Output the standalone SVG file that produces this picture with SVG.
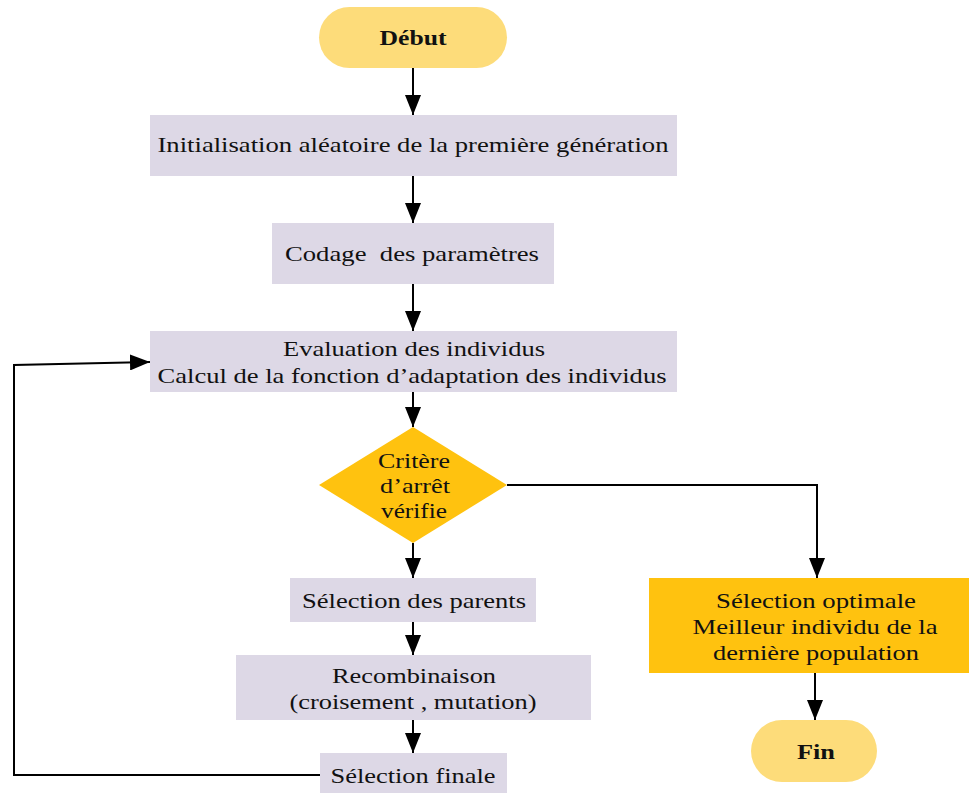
<svg xmlns="http://www.w3.org/2000/svg" width="969" height="793" viewBox="0 0 969 793">
<style>
.t{font-family:"Liberation Serif","Times New Roman",serif;font-size:21px;fill:#111;text-anchor:middle}
.b{font-weight:bold}
.box{fill:#DDD8E6}
.term{fill:#FDDC7A}
.dec{fill:#FFC20F}
.c{fill:none;stroke:#000;stroke-width:2}
</style>
<defs>
<marker id="ah" viewBox="0 0 20 16" refX="20" refY="8" markerWidth="20" markerHeight="16" markerUnits="userSpaceOnUse" orient="auto">
<path d="M0,0 L20,8 L0,16 z" fill="#000"/>
</marker>
</defs>
<rect width="969" height="793" fill="#fff"/>
<g id="connectors">
<line class="c" x1="413" y1="68" x2="413" y2="115" marker-end="url(#ah)"/>
<line class="c" x1="413" y1="176" x2="413" y2="223" marker-end="url(#ah)"/>
<line class="c" x1="413" y1="284" x2="413" y2="331" marker-end="url(#ah)"/>
<line class="c" x1="413" y1="392" x2="413" y2="427" marker-end="url(#ah)"/>
<line class="c" x1="413" y1="543" x2="413" y2="578" marker-end="url(#ah)"/>
<line class="c" x1="413" y1="622" x2="413" y2="655" marker-end="url(#ah)"/>
<line class="c" x1="413" y1="720" x2="413" y2="753" marker-end="url(#ah)"/>
<polyline class="c" points="507,485 817,485 817,578" marker-end="url(#ah)"/>
<line class="c" x1="815" y1="673" x2="815" y2="720" marker-end="url(#ah)"/>
<polyline class="c" points="320,775 14,775 14,365 150,362" marker-end="url(#ah)"/>
</g>
<g id="debut">
<rect class="term" x="319" y="7" width="188" height="61" rx="30.5"/>
<text class="t b" x="413" y="45" textLength="67" lengthAdjust="spacingAndGlyphs">Début</text>
</g>
<g id="init">
<rect class="box" x="150" y="115" width="527" height="61"/>
<text class="t" x="413" y="152" textLength="511" lengthAdjust="spacingAndGlyphs">Initialisation aléatoire de la première génération</text>
</g>
<g id="codage">
<rect class="box" x="272" y="223" width="282" height="61"/>
<text class="t" x="412" y="261" xml:space="preserve" textLength="254" lengthAdjust="spacingAndGlyphs">Codage  des paramètres</text>
</g>
<g id="evaluation">
<rect class="box" x="150" y="331" width="527" height="61"/>
<text class="t" x="414" y="356" textLength="262" lengthAdjust="spacingAndGlyphs">Evaluation des individus</text>
<text class="t" x="412" y="383" textLength="509" lengthAdjust="spacingAndGlyphs">Calcul de la fonction d’adaptation des individus</text>
</g>
<g id="critere">
<polygon class="dec" points="413,427 507,485 413,543 319,485"/>
<text class="t" x="414" y="468" textLength="72" lengthAdjust="spacingAndGlyphs">Critère</text>
<text class="t" x="415" y="493" textLength="70" lengthAdjust="spacingAndGlyphs">d’arrêt</text>
<text class="t" x="414" y="518" textLength="66" lengthAdjust="spacingAndGlyphs">vérifie</text>
</g>
<g id="parents">
<rect class="box" x="290" y="578" width="246" height="44"/>
<text class="t" x="414" y="608" textLength="224" lengthAdjust="spacingAndGlyphs">Sélection des parents</text>
</g>
<g id="recombinaison">
<rect class="box" x="236" y="655" width="355" height="65"/>
<text class="t" x="414" y="683" textLength="164" lengthAdjust="spacingAndGlyphs">Recombinaison</text>
<text class="t" x="413" y="709" textLength="247" lengthAdjust="spacingAndGlyphs">(croisement , mutation)</text>
</g>
<g id="finale">
<rect class="box" x="320" y="753" width="187" height="40"/>
<text class="t" x="413" y="783" textLength="165" lengthAdjust="spacingAndGlyphs">Sélection finale</text>
</g>
<g id="optimale">
<rect class="dec" x="649" y="578" width="320" height="95"/>
<text class="t" x="816" y="608" textLength="200" lengthAdjust="spacingAndGlyphs">Sélection optimale</text>
<text class="t" x="815" y="634" textLength="245" lengthAdjust="spacingAndGlyphs">Meilleur individu de la</text>
<text class="t" x="816" y="660" textLength="206" lengthAdjust="spacingAndGlyphs">dernière population</text>
</g>
<g id="fin">
<rect class="term" x="751" y="720" width="126" height="62" rx="31"/>
<text class="t b" x="816" y="759" textLength="38" lengthAdjust="spacingAndGlyphs">Fin</text>
</g>
</svg>
